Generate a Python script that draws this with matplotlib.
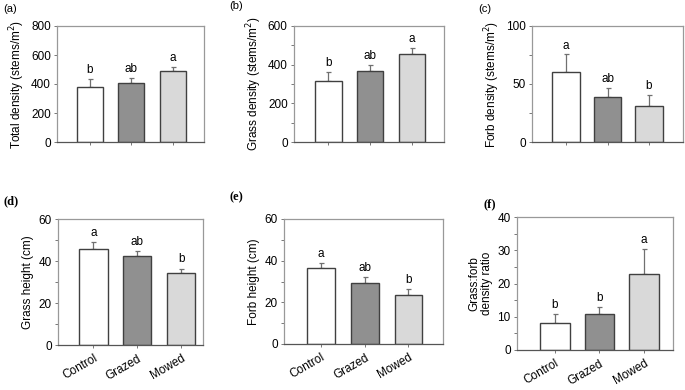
import matplotlib.pyplot as plt
from matplotlib.ticker import MultipleLocator

plt.rcParams['font.family'] = ['Liberation Sans', 'DejaVu Sans']

treatments = ['Control', 'Grazed', 'Mowed']
colors = ['#ffffff', '#909090', '#d9d9d9']

total_density = [377, 405, 490]
total_density_se = [55, 38, 29]
grass_density = [316, 367, 455]
grass_density_se = [47, 31, 33]
forb_density = [60.5, 39.2, 31.4]
forb_density_se = [15.0, 7.2, 9.2]
grass_height = [45.7, 42.3, 34.2]
grass_height_se = [3.2, 2.6, 2.2]
forb_height = [36.6, 29.1, 23.4]
forb_height_se = [2.3, 3.2, 2.8]
ratio = [8.2, 10.8, 22.8]
ratio_se = [2.6, 2.0, 7.5]

letters_a = ['b', 'ab', 'a']
letters_b = ['b', 'ab', 'a']
letters_c = ['a', 'ab', 'b']
letters_d = ['a', 'ab', 'b']
letters_e = ['a', 'ab', 'b']
letters_f = ['b', 'b', 'a']

W, H = 685, 390
fig = plt.figure(figsize=(W / 100, H / 100), dpi=100)


def make_ax(l, r, t, b):
    return fig.add_axes([l / W, 1 - b / H, (r - l) / W, (b - t) / H])


# panel specs: box in px, xlim, values, errors, letters, ylim, ticks, ylabel, tag, tag pos, tag style, x labels, bar width
panels = [
    ((57, 204, 26, 142), (-0.795, 2.75), total_density, total_density_se, letters_a,
     800, 200, None, 'Total density (stems/m$^2$)', '(a)', (3, 9), 'sans', False, 0.63),
    ((294, 444, 26, 142), (-0.83, 2.78), grass_density, grass_density_se, letters_b,
     600, 200, 100, 'Grass density (stems/m$^2$)', '(b)', (229, 6), 'sans', False, 0.63),
    ((532, 683, 26, 142), (-0.82, 2.82), forb_density, forb_density_se, letters_c,
     100, 50, 25, 'Forb density (stems/m$^2$)', '(c)', (478, 9), 'sans', False, 0.66),
    ((58, 203, 219, 345), (-0.81, 2.5), grass_height, grass_height_se, letters_d,
     60, 20, 10, 'Grass height (cm)', '(d)', (4, 201), 'serif', True, 0.64),
    ((284, 443, 219, 344), (-0.85, 2.79), forb_height, forb_height_se, letters_e,
     60, 20, 10, 'Forb height (cm)', '(e)', (229, 197), 'serif', True, 0.64),
    ((517, 673, 217, 350), (-0.85, 2.65), ratio, ratio_se, letters_f,
     40, 10, 5, 'Grass:forb\ndensity ratio', '(f)', (483, 204), 'serif', True, 0.67),
]

for (box, xlim, vals, errs, lets, ymax, major, minor, ylabel, tag, tagpos,
     tagfont, showx, bw) in panels:
    ax = make_ax(*box)
    x = range(len(treatments))
    ax.bar(x, vals, width=bw, color=colors, edgecolor='#404040', linewidth=1.0, zorder=2)
    ax.errorbar(x, vals, yerr=[[0] * 3, errs], fmt='none', ecolor='#707070',
                elinewidth=0.9, capsize=1.8, capthick=0.9, zorder=1)
    for xi, v, e, s in zip(x, vals, errs, lets):
        ax.text(xi, v + e + ymax * 0.025, s, ha='center', va='bottom', fontsize=8.5)
    ax.set_xlim(*xlim)
    ax.set_ylim(0, ymax)
    ax.yaxis.set_major_locator(MultipleLocator(major))
    if minor:
        ax.yaxis.set_minor_locator(MultipleLocator(minor))
    ax.set_xticks(list(x))
    if showx:
        ax.set_xticklabels(treatments, rotation=30, ha='right', rotation_mode='anchor',
                           fontsize=8.5)
    else:
        ax.set_xticklabels([])
    for sp in ax.spines.values():
        sp.set_color('#999999')
        sp.set_linewidth(0.9)
    ax.spines['bottom'].set_color('#555555')
    ax.tick_params(axis='y', which='major', length=2.5, width=0.7, color='#777777',
                   labelsize=8.5, pad=2)
    ax.tick_params(axis='y', which='minor', length=2, width=0.7, color='#777777')
    ax.tick_params(axis='x', length=2.5, width=0.7, color='#777777', pad=3)
    ax.set_ylabel(ylabel, fontsize=8.5, labelpad=3, linespacing=1.1)
    fam = ['Liberation Serif', 'DejaVu Serif'] if tagfont == 'serif' else ['Liberation Sans']
    fig.text(tagpos[0] / W, 1 - tagpos[1] / H, tag, fontsize=9 if tagfont == 'serif' else 8,
             family=fam, ha='left', va='center',
             fontweight='bold' if tagfont == 'serif' else 'normal')

fig.savefig('out.png', dpi=100)
